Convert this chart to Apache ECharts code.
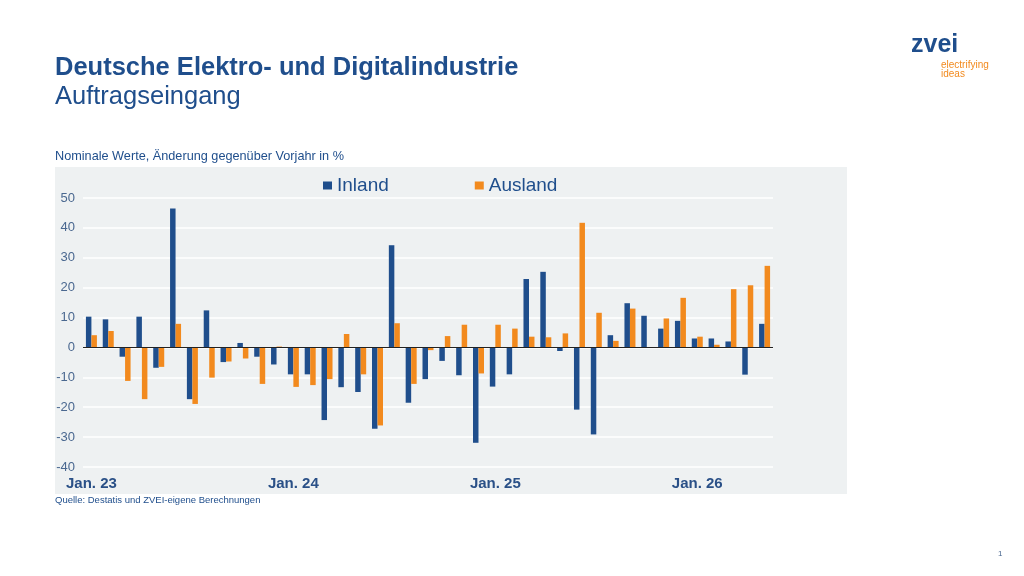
<!DOCTYPE html>
<html>
<head>
<meta charset="utf-8">
<title>Auftragseingang</title>
<script src="https://cdn.jsdelivr.net/npm/echarts@6/dist/echarts.min.js"></script>
<style>
  html, body { margin: 0; padding: 0; background: #fff; }
  #chart { width: 1024px; height: 576px; }
</style>
</head>
<body>
<div id="chart"></div>
<script>
// Monate Jan. 23 bis Mai 26
var monate = ['Jan.', 'Feb.', 'Mär.', 'Apr.', 'Mai', 'Jun.', 'Jul.', 'Aug.', 'Sep.', 'Okt.', 'Nov.', 'Dez.'];
var jahre = ['23', '24', '25', '26'];
var kategorien = [];
jahre.forEach(function (j) {
  monate.forEach(function (m) {
    if (kategorien.length < 41) kategorien.push(m + ' ' + j);
  });
});

// Änderung gegenüber Vorjahr in %
var inland = [
  10.3, 9.4, -3.1, 10.3, -6.8, 46.5, -17.3, 12.4, -4.9, 1.5, -3.1, -5.7,
  -9.0, -9.0, -24.3, -13.3, -14.9, -27.2, 34.2, -18.5, -10.6, -4.5, -9.3, -31.9,
  -13.1, -9.0, 22.9, 25.3, -1.2, -20.8, -29.1, 4.1, 14.8, 10.6, 6.3, 8.9,
  3.0, 3.0, 2.0, -9.1, 7.9
];
var ausland = [
  4.1, 5.5, -11.2, -17.3, -6.5, 7.9, -18.9, -10.1, -4.7, -3.7, -12.2, 0.3,
  -13.2, -12.6, -10.6, 4.5, -9.0, -26.1, 8.1, -12.2, -0.9, 3.8, 7.6, -8.7,
  7.6, 6.3, 3.6, 3.4, 4.7, 41.7, 11.6, 2.2, 13.0, 0.0, 9.7, 16.6,
  3.6, 0.9, 19.5, 20.8, 27.3
];

var blau = '#1f4e8c';
var orange = '#f28a1e';
var textBlau = '#1f4e8c';
var achsBlau = '#4a6890';
var schrift = 'Liberation Sans, Arial, sans-serif';

var chart = echarts.init(document.getElementById('chart'));

chart.setOption({
  animation: false,
  textStyle: { fontFamily: schrift },
  graphic: [
    // grauer Diagrammhintergrund
    { type: 'rect', z: -10, shape: { x: 55, y: 167, width: 792, height: 327 }, style: { fill: '#eef1f2' } },
    { type: 'text', left: 55, top: 55, style: { text: 'Deutsche Elektro- und Digitalindustrie', fill: textBlau, font: 'bold 25.5px ' + schrift } },
    { type: 'text', left: 55, top: 84, style: { text: 'Auftragseingang', fill: textBlau, font: '25.5px ' + schrift } },
    { type: 'text', left: 55, top: 150, style: { text: 'Nominale Werte, Änderung gegenüber Vorjahr in %', fill: textBlau, font: '12.7px ' + schrift } },
    { type: 'text', left: 55, top: 495, style: { text: 'Quelle: Destatis und ZVEI-eigene Berechnungen', fill: textBlau, font: '9.5px ' + schrift } },
    // Logo
    { type: 'text', left: 911, top: 33, style: { text: 'zvei', fill: blau, font: 'bold 25px ' + schrift } },
    { type: 'text', left: 941, top: 60, style: { text: 'electrifying\nideas', fill: orange, font: '10px ' + schrift, lineHeight: 9 } },
    { type: 'text', left: 998, top: 550, style: { text: '1', fill: achsBlau, font: '8px ' + schrift } }
  ],
  legend: {
    top: 171,
    left: 318,
    itemWidth: 9,
    itemHeight: 8,
    itemGap: 86,
    icon: 'rect',
    textStyle: { color: textBlau, fontSize: 19 },
    data: ['Inland', 'Ausland']
  },
  grid: { left: 83, right: 251, top: 198, bottom: 109, containLabel: false },
  xAxis: {
    type: 'category',
    data: kategorien,
    axisLine: { show: false },
    axisTick: { show: false },
    axisLabel: {
      interval: 0,
      margin: 9,
      color: '#2a5087',
      fontSize: 15,
      fontWeight: 'bold',
      formatter: function (v, i) {
        return i % 12 === 0 ? v : '';
      }
    }
  },
  yAxis: {
    type: 'value',
    min: -40,
    max: 50,
    interval: 10,
    axisLine: { show: false },
    axisTick: { show: false },
    axisLabel: { color: achsBlau, fontSize: 13, margin: 8 },
    splitLine: { lineStyle: { color: '#ffffff', width: 1.5 } }
  },
  series: [
    {
      name: 'Inland',
      type: 'bar',
      data: inland,
      barWidth: 5.5,
      barGap: '0%',
      itemStyle: { color: blau },
      markLine: {
        silent: true,
        symbol: 'none',
        label: { show: false },
        lineStyle: { color: '#222', width: 1, type: 'solid' },
        data: [{ yAxis: 0 }]
      }
    },
    {
      name: 'Ausland',
      type: 'bar',
      data: ausland,
      barWidth: 5.5,
      itemStyle: { color: orange }
    }
  ]
});
</script>
</body>
</html>
